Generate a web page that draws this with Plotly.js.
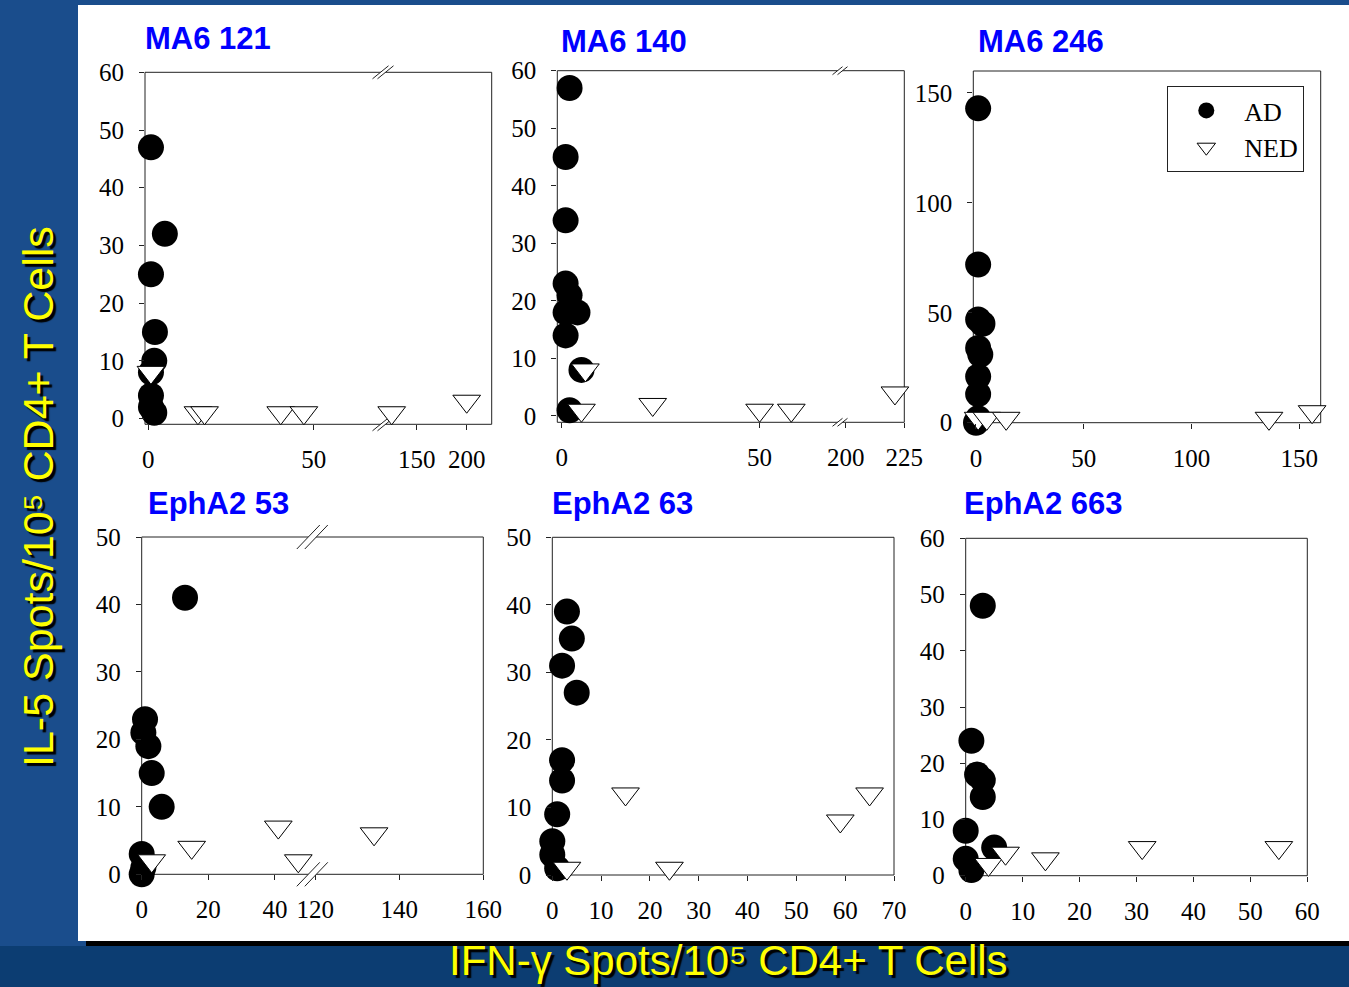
<!DOCTYPE html>
<html><head><meta charset="utf-8">
<script src="https://cdn.plot.ly/plotly-3.0.1.min.js"></script>
<style>html,body{margin:0;padding:0;background:#184b8a;}#chart{width:1349px;height:987px;}</style>
</head><body><div id="chart"></div>
<script>
// ---------- DATA (IFN-g spots = x, IL-5 spots = y) ----------
const ma6_121_ad_x  = [0.8, 5, 0.8, 2, 1.8, 0.8, 0.8, 0.8, 1.8];
const ma6_121_ad_y  = [47, 32, 25, 15, 10, 8, 4, 2, 1];
const ma6_121_ned_x = [0.8, 15, 17, 40, 47, 125, 200];
const ma6_121_ned_y = [8, 1, 1, 1, 1, 1, 3];

const ma6_140_ad_x  = [2, 1, 1, 1, 2, 4, 1, 1, 5, 2];
const ma6_140_ad_y  = [57, 45, 34, 23, 21, 18, 18, 14, 8, 1];
const ma6_140_ned_x = [6, 5, 23, 50, 58, 221];
const ma6_140_ned_y = [8, 1, 2, 1, 1, 4];

const ma6_246_ad_x  = [1, 1, 1, 3, 1, 2, 1, 1, 1, 0];
const ma6_246_ad_y  = [143, 72, 47, 45, 34, 31, 21, 13, 2, 0];
const ma6_246_ned_x = [1, 5, 14, 136, 156];
const ma6_246_ned_y = [2, 2, 2, 2, 5];

const epha2_53_ad_x  = [13, 1, 0.5, 2, 3, 6, 0, 0.5, 0];
const epha2_53_ad_y  = [41, 23, 21, 19, 15, 10, 3, 1, 0];
const epha2_53_ned_x = [3, 15, 41, 47, 134];
const epha2_53_ned_y = [2, 4, 7, 2, 6];

const epha2_63_ad_x  = [3, 4, 2, 5, 2, 2, 1, 0, 0, 1];
const epha2_63_ad_y  = [39, 35, 31, 27, 17, 14, 9, 5, 3, 1];
const epha2_63_ned_x = [3, 15, 24, 59, 65];
const epha2_63_ned_y = [1, 12, 1, 8, 12];

const epha2_663_ad_x  = [3, 1, 2, 3, 3, 0, 0, 1, 5];
const epha2_663_ad_y  = [48, 24, 18, 17, 14, 8, 3, 1, 5];
const epha2_663_ned_x = [4, 7, 14, 31, 55];
const epha2_663_ned_y = [2, 4, 3, 5, 5];

// tick labels
const ticks_y60  = [0, 10, 20, 30, 40, 50, 60];
const ticks_y50  = [0, 10, 20, 30, 40, 50];
const ticks_y160 = [0, 50, 100, 150];
const ticks_121_a = [0, 50],      ticks_121_b = [150, 200];
const ticks_140_a = [0, 50],      ticks_140_b = [200, 225];
const ticks_246   = [0, 50, 100, 150];
const ticks_53_a  = [0, 20, 40],  ticks_53_b  = [120, 140, 160];
const ticks_63    = [0, 10, 20, 30, 40, 50, 60, 70];
const ticks_663   = [0, 10, 20, 30, 40, 50, 60];

const panelTitles = ['MA6 121', 'MA6 140', 'MA6 246', 'EphA2 53', 'EphA2 63', 'EphA2 663'];
const seriesNames = ['AD', 'NED'];
const xTitle = 'IFN-γ Spots/10⁵ CD4+ T Cells';
const yTitle = 'IL-5 Spots/10⁵ CD4+ T Cells';

// ---------- LAYOUT GEOMETRY (pixels) ----------
const W = 1349, H = 987;
const fx = x => x / W;
const fy = y => 1 - y / H;

const panels = [
  {title: panelTitles[0], tx:143, ty:38, L:145, R:491.7, T:72.3, B:424.3, yr:[-1,60], yt:ticks_y60,
   segs:[{r:[-1,70.9], t:ticks_121_a}, {r:[116.3,225], t:ticks_121_b}], brk:383, mark:{w:16,h:13,g:5},
   ad:[ma6_121_ad_x, ma6_121_ad_y], ned:[ma6_121_ned_x, ma6_121_ned_y]},
  {title: panelTitles[1], tx:559, ty:41, L:557.3, R:904.3, T:70.7, B:422.3, yr:[-1.1,60], yt:ticks_y60,
   segs:[{r:[-1.1,70.3], t:ticks_140_a}, {r:[197.6,225], t:ticks_140_b}], brk:840, mark:{w:10,h:8,g:5},
   ad:[ma6_140_ad_x, ma6_140_ad_y], ned:[ma6_140_ned_x, ma6_140_ned_y]},
  {title: panelTitles[2], tx:976, ty:41, L:973.3, R:1320.7, T:71, B:422.7, yr:[0,160], yt:ticks_y160,
   segs:[{r:[-1.25,160], t:ticks_246}],
   ad:[ma6_246_ad_x, ma6_246_ad_y], ned:[ma6_246_ned_x, ma6_246_ned_y]},
  {title: panelTitles[3], tx:146, ty:503, L:141.7, R:483.3, T:537, B:874.3, yr:[0,50], yt:ticks_y50,
   segs:[{r:[0,51.2], t:ticks_53_a}, {r:[119.3,160], t:ticks_53_b}], brk:312.3, mark:{w:23,h:24,g:8},
   ad:[epha2_53_ad_x, epha2_53_ad_y], ned:[epha2_53_ned_x, epha2_53_ned_y]},
  {title: panelTitles[4], tx:550, ty:503, L:552.3, R:894, T:537.3, B:875, yr:[0,50], yt:ticks_y50,
   segs:[{r:[0,70], t:ticks_63}],
   ad:[epha2_63_ad_x, epha2_63_ad_y], ned:[epha2_63_ned_x, epha2_63_ned_y]},
  {title: panelTitles[5], tx:962, ty:503, L:965.7, R:1307.3, T:538.3, B:875.7, yr:[0,60], yt:ticks_y60,
   segs:[{r:[0,60], t:ticks_663}],
   ad:[epha2_663_ad_x, epha2_663_ad_y], ned:[epha2_663_ned_x, epha2_663_ned_y]}
];

const tickFont = {family:'Liberation Serif, Times New Roman, serif', size:25, color:'#000'};
const axisLine = '#222';
const baseAxis = {showgrid:false, zeroline:false, showline:false, ticks:'outside', ticklen:5, tickwidth:1,
  tickcolor:axisLine, tickfont:tickFont, fixedrange:true, autorange:false};

const layout = {
  width:W, height:H, margin:{l:0,r:0,t:0,b:0},
  paper_bgcolor:'#1a4d8c', plot_bgcolor:'rgba(0,0,0,0)',
  showlegend:true,
  legend:{x:fx(1167.3), y:fy(86), xanchor:'left', yanchor:'top', bgcolor:'#fff', bordercolor:axisLine,
    borderwidth:1, font:{family:'Liberation Serif, Times New Roman, serif', size:26, color:'#000'},
    itemwidth:66, traceorder:'normal'},
  shapes:[], annotations:[]
};

// background: white slide panel, shadow, darker bottom strip
layout.shapes.push({type:'rect', xref:'paper', yref:'paper', x0:0, x1:1, y0:0, y1:fy(946), fillcolor:'#0c3d72', line:{width:0}, layer:'below'});
layout.shapes.push({type:'rect', xref:'paper', yref:'paper', x0:fx(86), x1:1, y0:fy(946), y1:fy(940), fillcolor:'#000', line:{width:0}, layer:'below'});
layout.shapes.push({type:'rect', xref:'paper', yref:'paper', x0:fx(78), x1:1, y0:fy(941), y1:fy(5), fillcolor:'#fff', line:{width:0}, layer:'below'});

const traces = [];
let xi = 0, yi = 0;
const id = (p, n) => p + (n === 1 ? '' : n);

panels.forEach((p, pi) => {
  yi++;
  const yId = id('y', yi);
  const segPix = p.segs.length === 1 ? [[p.L, p.R]] : [[p.L, p.brk], [p.brk, p.R]];
  const xIds = [];
  p.segs.forEach((s, si) => {
    xi++;
    const xId = id('x', xi);
    xIds.push(xId);
    layout['xaxis' + (xi === 1 ? '' : xi)] = Object.assign({}, baseAxis, {
      domain:[fx(segPix[si][0]), fx(segPix[si][1])], range:s.r, tickvals:s.t, anchor:yId, ticklabelstandoff:8
    });
  });
  layout['yaxis' + (yi === 1 ? '' : yi)] = Object.assign({}, baseAxis, {
    domain:[fy(p.B), fy(p.T)], range:p.yr, tickvals:p.yt, anchor:xIds[0], ticklabelstandoff:10
  });

  const addSeries = (xs, ys, name, marker) => {
    p.segs.forEach((s, si) => {
      const X = [], Y = [];
      xs.forEach((v, k) => { if (v >= s.r[0] && v <= s.r[1]) { X.push(v); Y.push(ys[k]); } });
      traces.push({type:'scatter', mode:'markers', x:X, y:Y, xaxis:xIds[si], yaxis:yId, name:name,
        legendgroup:name, showlegend:(pi === 0 && si === 0), cliponaxis:false, marker:marker, hoverinfo:'x+y'});
    });
  };
  addSeries(p.ad[0], p.ad[1], seriesNames[0], {symbol:'circle', size:26, color:'#000', line:{width:0}});
  addSeries(p.ned[0], p.ned[1], seriesNames[1], {symbol:'triangle-down', size:24, color:'#fff', line:{width:1, color:'#000'}});

  // frame
  layout.shapes.push({type:'rect', xref:'paper', yref:'paper', x0:fx(p.L), x1:fx(p.R), y0:fy(p.B), y1:fy(p.T),
    line:{color:axisLine, width:1}, fillcolor:'rgba(0,0,0,0)', layer:'below'});

  // axis break marks
  if (p.brk) {
    const m = p.mark;
    [p.T, p.B].forEach(yy => {
      const a1 = [p.brk - m.g/2 - m.w/2, yy + m.h/2], b1 = [p.brk - m.g/2 + m.w/2, yy - m.h/2];
      const a2 = [a1[0] + m.g, a1[1]], b2 = [b1[0] + m.g, b1[1]];
      const P = pt => fx(pt[0]) + ',' + fy(pt[1]);
      layout.shapes.push({type:'path', xref:'paper', yref:'paper', layer:'below',
        path:'M' + P(a1) + ' L' + P(b1) + ' L' + P(b2) + ' L' + P(a2) + ' Z', fillcolor:'#fff', line:{width:0}});
      layout.shapes.push({type:'path', xref:'paper', yref:'paper', layer:'below', path:'M' + P(a1) + ' L' + P(b1), line:{color:axisLine, width:1}});
      layout.shapes.push({type:'path', xref:'paper', yref:'paper', layer:'below', path:'M' + P(a2) + ' L' + P(b2), line:{color:axisLine, width:1}});
    });
  }

  layout.annotations.push({text:p.title, xref:'paper', yref:'paper', x:fx(p.tx), y:fy(p.ty), xanchor:'left', yanchor:'middle',
    showarrow:false, font:{family:'Liberation Sans, Arial, sans-serif', size:31, color:'#0000ff', weight:'bold'}});
});

// global axis titles
const titleFont = {family:'Liberation Sans, Arial, sans-serif', color:'#ffff00'};
layout.annotations.push({text:xTitle,
  xref:'paper', yref:'paper', x:fx(729), y:fy(960), xanchor:'center', yanchor:'middle', showarrow:false,
  font:Object.assign({}, titleFont, {size:42, shadow:'3px 3px 1px #000'})});
layout.annotations.push({text:yTitle, textangle:-90,
  xref:'paper', yref:'paper', x:fx(38), y:fy(497), xanchor:'center', yanchor:'middle', showarrow:false,
  font:Object.assign({}, titleFont, {size:43, shadow:'-3px 3px 1px #000'})});

Plotly.newPlot('chart', traces, layout, {displayModeBar:false, staticPlot:true});
</script></body></html>
